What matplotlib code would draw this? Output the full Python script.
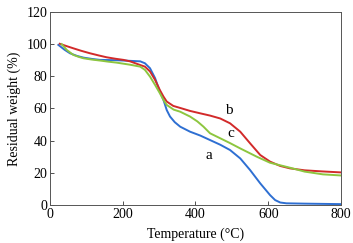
import matplotlib
matplotlib.use("Agg")
import matplotlib.pyplot as plt

plt.rcParams['font.family'] = ['Liberation Serif', 'DejaVu Serif']

temp_a = [23, 40, 55, 75, 92, 115, 137, 180, 220, 248, 261, 275, 289, 302, 312, 321, 330, 343, 358, 385, 413, 440, 468, 495, 523, 550, 578, 605, 619, 633, 650, 700, 800]
wt_a = [99.5, 96.5, 94.3, 92.6, 91.6, 90.8, 90.2, 90.0, 89.6, 89.3, 88.1, 85, 78.8, 70.5, 65.3, 59, 55, 51.5, 48.7, 45.6, 43.2, 40.4, 37.5, 34.2, 29, 21.8, 13.5, 6.2, 3.1, 1.6, 1.1, 0.9, 0.6]

temp_b = [27, 45, 64, 85, 110, 135, 156, 180, 202, 220, 248, 261, 275, 289, 302, 312, 321, 339, 360, 385, 413, 440, 468, 495, 523, 550, 578, 605, 633, 660, 700, 750, 800]
wt_b = [100.2, 98.8, 97.4, 95.9, 94.3, 92.9, 91.8, 90.9, 90.2, 89.3, 87, 86, 83, 77.7, 71.5, 67.4, 64.3, 61.6, 60.2, 58.5, 57, 55.6, 53.8, 50.8, 45.6, 38.4, 31.1, 27, 24.3, 22.8, 21.6, 20.9, 20.3]

temp_c = [32, 46, 64, 80, 92, 115, 137, 160, 183, 220, 248, 261, 275, 289, 302, 312, 321, 340, 358, 385, 405, 422, 440, 468, 495, 523, 569, 605, 660, 700, 750, 800]
wt_c = [100, 96.4, 93.3, 92.0, 91.2, 90.4, 89.8, 89.1, 88.5, 87.2, 86, 84, 79.8, 74.6, 69.5, 65.3, 62.2, 59.3, 58, 55, 52, 48.7, 44.6, 41.5, 38.5, 35.2, 30, 26.3, 23.2, 20.8, 19.1, 18.4]

labels = ['a', 'b', 'c']
label_pos_x = [437, 493, 497]
label_pos_y = [31, 59, 44.6]

x_ticks = [0, 200, 400, 600, 800]
y_ticks = [0, 20, 40, 60, 80, 100, 120]

fig = plt.figure(figsize=(3.53, 2.43), dpi=100)
ax = fig.add_axes([0.1416, 0.156, 0.8244, 0.795])

ax.plot(temp_a, wt_a, color='#2e6fd2', lw=1.4)
ax.plot(temp_b, wt_b, color='#d22a2a', lw=1.4)
ax.plot(temp_c, wt_c, color='#8dc63f', lw=1.4)

for lab, lx, ly in zip(labels, label_pos_x, label_pos_y):
    ax.text(lx, ly, lab, fontsize=11, ha='center', va='center')

ax.set_xlim(0, 800)
ax.set_ylim(0, 120)
ax.set_xticks(x_ticks)
ax.set_yticks(y_ticks)
ax.tick_params(direction='in', length=3, width=0.6, labelsize=10, pad=2, color='#333333')
for s in ax.spines.values():
    s.set_linewidth(0.7)
    s.set_color('#555555')
ax.set_xlabel('Temperature (°C)', fontsize=10, labelpad=5)
ax.set_ylabel('Residual weight (%)', fontsize=10, labelpad=4)

fig.savefig('out.png', dpi=100)
